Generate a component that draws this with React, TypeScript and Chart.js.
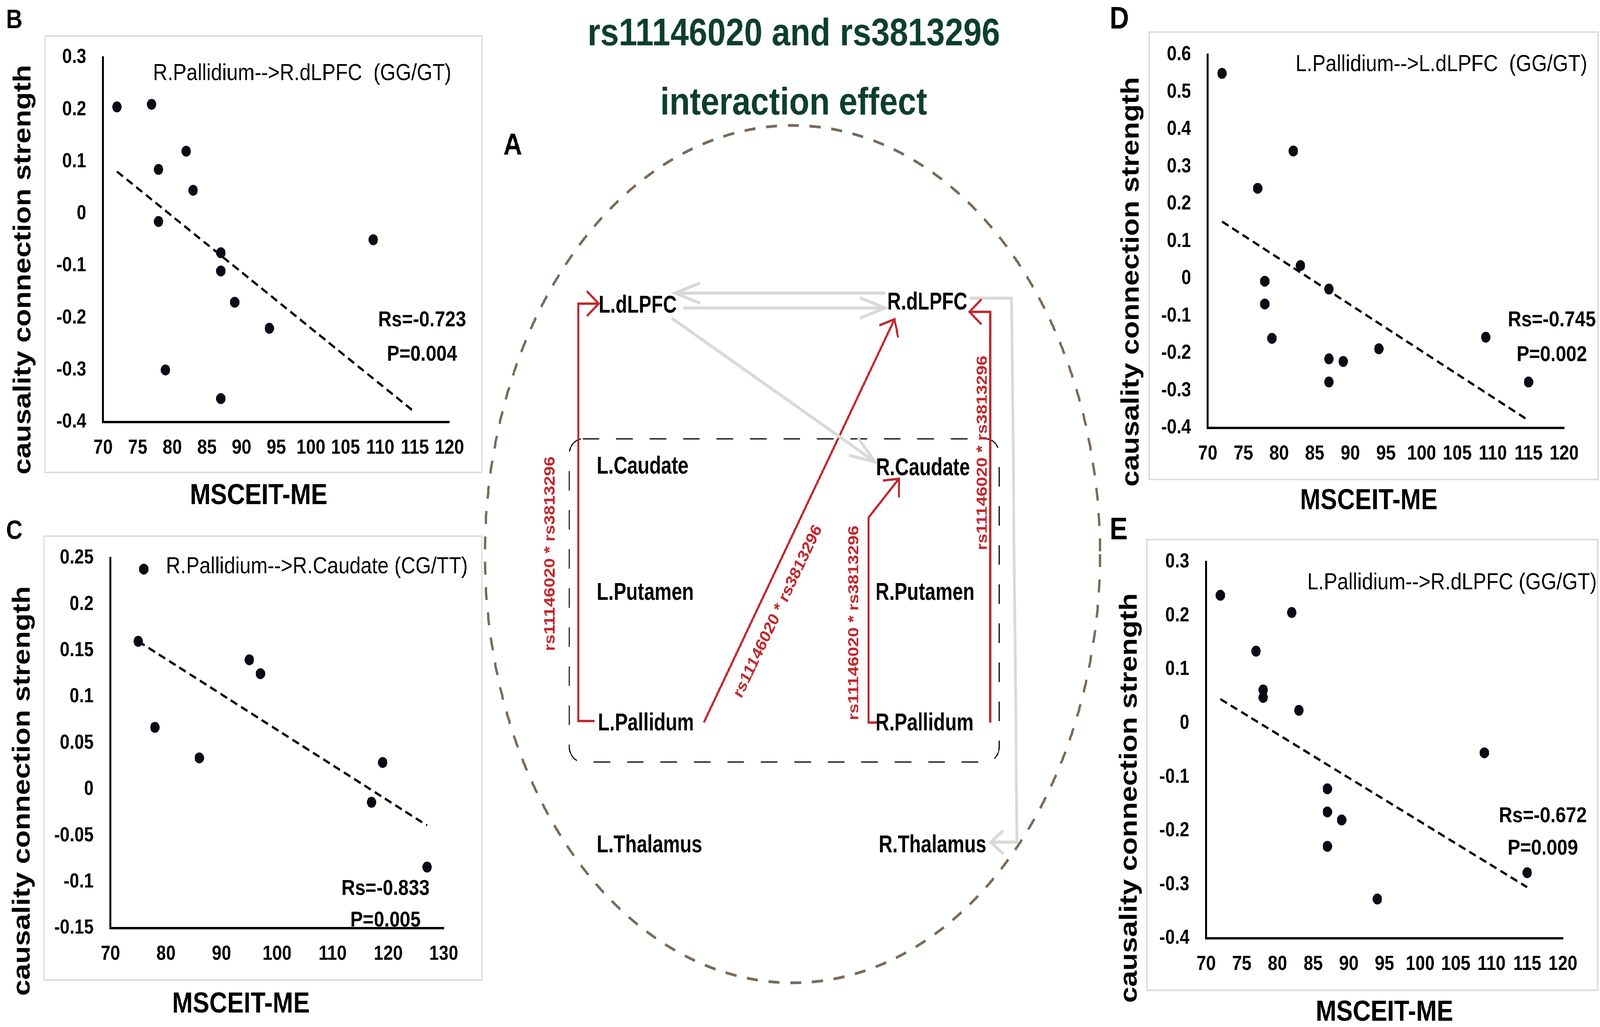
import React, { useEffect, useRef } from 'react';
import { Chart, registerables } from 'chart.js';

Chart.register(...registerables);

const FONT = '"Liberation Sans", Arial, Helvetica, sans-serif';
const DOT = '#0b0b16';
const RED = '#c1272d';
const GRAY = '#d9d9d9';
const GREEN = '#0e3f2c';
const ELLIPSE_COLOR = '#786a5c';
const PAGE_W = 4781;
const PAGE_H = 2628;

// ---------- Panel B : R.Pallidium-->R.dLPFC ----------
const xTicksB = [70, 75, 80, 85, 90, 95, 100, 105, 110, 115, 120];
const yTicksB = [-0.4, -0.3, -0.2, -0.1, 0, 0.1, 0.2, 0.3];
const msceitB = [72, 77, 78, 78, 79, 82, 83, 87, 87, 87, 89, 94, 109];
const strengthB = [0.205, 0.21, 0.085, -0.015, -0.3, 0.12, 0.045, -0.075, -0.11, -0.355, -0.17, -0.22, -0.05];
const trendXB = [72, 115];
const trendYB = [0.081, -0.381];

// ---------- Panel C : R.Pallidium-->R.Caudate ----------
const xTicksC = [70, 80, 90, 100, 110, 120, 130];
const yTicksC = [-0.15, -0.1, -0.05, 0, 0.05, 0.1, 0.15, 0.2, 0.25];
const msceitC = [75, 76, 78, 86, 95, 97, 117, 119, 127];
const strengthC = [0.16, 0.238, 0.067, 0.034, 0.14, 0.125, -0.014, 0.029, -0.084];
const trendXC = [75, 127];
const trendYC = [0.16, -0.039];

// ---------- Panel D : L.Pallidium-->L.dLPFC ----------
const xTicksD = [70, 75, 80, 85, 90, 95, 100, 105, 110, 115, 120];
const yTicksD = [-0.4, -0.3, -0.2, -0.1, 0, 0.1, 0.2, 0.3, 0.4, 0.5, 0.6];
const msceitD = [72, 77, 78, 78, 79, 82, 83, 87, 87, 87, 89, 94, 109, 115];
const strengthD = [0.55, 0.242, -0.007, -0.068, -0.16, 0.342, 0.035, -0.028, -0.215, -0.277, -0.222, -0.188, -0.157, -0.277];
const trendXD = [72, 115];
const trendYD = [0.153, -0.38];

// ---------- Panel E : L.Pallidium-->R.dLPFC ----------
const xTicksE = [70, 75, 80, 85, 90, 95, 100, 105, 110, 115, 120];
const yTicksE = [-0.4, -0.3, -0.2, -0.1, 0, 0.1, 0.2, 0.3];
const msceitE = [72, 77, 78, 78, 82, 83, 87, 87, 87, 89, 94, 109, 115];
const strengthE = [0.238, 0.134, 0.062, 0.048, 0.206, 0.024, -0.122, -0.165, -0.229, -0.18, -0.327, -0.055, -0.278];
const trendXE = [72, 115];
const trendYE = [0.045, -0.305];

// ---------- Panel A : diagram ----------
const titleLines = ['rs11146020 and rs3813296', 'interaction effect'];
const nodeNames = ['L.dLPFC', 'R.dLPFC', 'L.Caudate', 'R.Caudate', 'L.Putamen', 'R.Putamen', 'L.Pallidum', 'R.Pallidum', 'L.Thalamus', 'R.Thalamus'];
const nodeX = [1789, 2651, 1783, 2618, 1783, 2616, 1787, 2616, 1783, 2626];
const nodeY = [800, 792, 1212, 1216, 1535, 1535, 1869, 1869, 2181, 2181];
const grayPaths = [
  [[2645, 750], [2017, 750]],
  [[2042, 788], [2645, 788]],
  [[2007, 814], [2615, 1182]],
  [[2897, 763], [3023, 763], [3039, 2155], [2961, 2155]],
];
const redPaths = [
  [[1777, 1845], [1728, 1845], [1728, 777], [1789, 777]],
  [[2103, 1849], [2673, 817]],
  [[2632, 1849], [2595, 1849], [2595, 1325], [2686, 1225]],
  [[2959, 1849], [2959, 798], [2897, 798]],
];
const redLabel = 'rs11146020 * rs3813296';
const redLabelX = [1645, 2325, 2553, 2937];
const redLabelY = [1417, 1565, 1594, 1159];
const redLabelAngle = [-90, -61, -90, -90];

function fmtTick(v: number) {
  const r = Math.round(v * 100) / 100;
  return String(r === 0 ? 0 : r);
}

type Panel = {
  key: string;
  left: number; top: number; width: number; height: number;
  area: { l: number; t: number; r: number; b: number };
  frame: number[];
  letter: string; letterSize: number; letterPos: number[];
  yTitle: number[]; xTitle: number[];
  note: string; noteLeft: number; noteBase: number;
  rs: string; p: string; statsX: number; rsBase: number; pBase: number;
  xs: number[]; ys: number[]; tx: number[]; ty: number[];
  xTicks: number[]; yTicks: number[];
};

const panels: Panel[] = [
  {
    key: 'B', left: 0, top: 0, width: 1450, height: 1310,
    area: { l: 308, t: 147, r: 1343, b: 1080 }, frame: [135, 92, 1440, 1209],
    letter: 'B', letterSize: 68, letterPos: [18, 72],
    yTitle: [72, 690], xTitle: [773, 1290],
    note: 'R.Pallidium-->R.dLPFC  (GG/GT)', noteLeft: 457, noteBase: 205,
    rs: 'Rs=-0.723', p: 'P=0.004', statsX: 1261, rsBase: 835, pBase: 923,
    xs: msceitB, ys: strengthB, tx: trendXB, ty: trendYB, xTicks: xTicksB, yTicks: yTicksB,
  },
  {
    key: 'C', left: 0, top: 1290, width: 1450, height: 1338,
    area: { l: 330, t: 138, r: 1326, b: 1085 }, frame: [131, 82, 1440, 1218],
    letter: 'C', letterSize: 68, letterPos: [18, 89],
    yTitle: [70, 734], xTitle: [720, 1301],
    note: 'R.Pallidium-->R.Caudate (CG/TT)', noteLeft: 496, noteBase: 177,
    rs: 'Rs=-0.833', p: 'P=0.005', statsX: 1152, rsBase: 1000, pBase: 1081,
    xs: msceitC, ys: strengthC, tx: trendXC, ty: trendYC, xTicks: xTicksC, yTicks: yTicksC,
  },
  {
    key: 'D', left: 3300, top: 0, width: 1481, height: 1320,
    area: { l: 309, t: 140, r: 1374, b: 1095 }, frame: [134, 82, 1475, 1227],
    letter: 'D', letterSize: 80, letterPos: [16, 73],
    yTitle: [83, 721], xTitle: [790, 1303],
    note: 'L.Pallidium-->L.dLPFC  (GG/GT)', noteLeft: 571, noteBase: 182,
    rs: 'Rs=-0.745', p: 'P=0.002', statsX: 1337, rsBase: 835, pBase: 924,
    xs: msceitD, ys: strengthD, tx: trendXD, ty: trendYD, xTicks: xTicksD, yTicks: yTicksD,
  },
  {
    key: 'E', left: 3300, top: 1300, width: 1481, height: 1328,
    area: { l: 304, t: 138, r: 1370, b: 1101 }, frame: [127, 81, 1474, 1234],
    letter: 'E', letterSize: 80, letterPos: [16, 80],
    yTitle: [78, 742], xTitle: [837, 1312],
    note: 'L.Pallidium-->R.dLPFC (GG/GT)', noteLeft: 606, noteBase: 208,
    rs: 'Rs=-0.672', p: 'P=0.009', statsX: 1310, rsBase: 804, pBase: 887,
    xs: msceitE, ys: strengthE, tx: trendXE, ty: trendYE, xTicks: xTicksE, yTicks: yTicksE,
  },
];

function ScatterPanel({ p }: { p: Panel }) {
  const ref = useRef<HTMLCanvasElement>(null);
  useEffect(() => {
    const canvas = ref.current;
    if (!canvas) return;
    const points = p.xs.map((x, i) => ({ x, y: p.ys[i] }));
    const trend = p.tx.map((x, i) => ({ x, y: p.ty[i] }));
    const decor = {
      id: 'decor' + p.key,
      beforeDraw(chart: any) {
        const ctx = chart.ctx;
        const [l, t, r, b] = p.frame;
        ctx.save();
        ctx.strokeStyle = '#dcdcdc';
        ctx.lineWidth = 4;
        ctx.strokeRect(l, t, r - l, b - t);
        ctx.restore();
      },
      afterDraw(chart: any) {
        const ctx = chart.ctx;
        ctx.save();
        ctx.fillStyle = '#000';
        ctx.font = `bold ${p.letterSize}px ${FONT}`;
        ctx.textAlign = 'left';
        ctx.textBaseline = 'alphabetic';
        ctx.fillText(p.letter, p.letterPos[0], p.letterPos[1]);
        ctx.font = `bold 74px ${FONT}`;
        ctx.textAlign = 'center';
        ctx.fillText('MSCEIT-ME', p.xTitle[0], p.xTitle[1]);
        ctx.save();
        ctx.translate(p.yTitle[0], p.yTitle[1]);
        ctx.rotate(-Math.PI / 2);
        ctx.fillText('causality connection strength', 0, 19);
        ctx.restore();
        ctx.font = `60px ${FONT}`;
        ctx.textAlign = 'left';
        ctx.fillText(p.note, p.noteLeft, p.noteBase);
        ctx.font = `bold 56px ${FONT}`;
        ctx.textAlign = 'center';
        ctx.fillText(p.rs, p.statsX, p.rsBase);
        ctx.fillText(p.p, p.statsX, p.pBase);
        ctx.restore();
      },
    };
    const tickFont = { family: FONT, size: 52, weight: 'bold' as const };
    const chart = new Chart(canvas, {
      type: 'scatter',
      data: {
        datasets: [
          {
            data: points,
            backgroundColor: DOT,
            borderColor: DOT,
            borderWidth: 0,
            pointRadius: 14,
          },
          {
            data: trend,
            showLine: true,
            borderColor: '#000',
            borderWidth: 6,
            borderDash: [22, 13],
            pointRadius: 0,
            fill: false,
          } as any,
        ],
      },
      options: {
        animation: false,
        responsive: false,
        devicePixelRatio: 1,
        events: [],
        layout: { padding: { left: 0, top: p.area.t, right: p.width - p.area.r, bottom: 0 } },
        plugins: { legend: { display: false }, tooltip: { enabled: false }, title: { display: false } },
        scales: {
          x: {
            type: 'linear',
            min: p.xTicks[0],
            max: p.xTicks[p.xTicks.length - 1],
            grid: { display: false, drawTicks: false },
            border: { display: true, color: '#000', width: 6 },
            ticks: {
              padding: 35, color: '#000', font: tickFont, autoSkip: false,
              maxRotation: 0, minRotation: 0,
              callback: (v: any) => fmtTick(Number(v)),
            },
            afterBuildTicks: (s: any) => { s.ticks = p.xTicks.map((v) => ({ value: v })); },
            afterFit: (s: any) => { s.height = p.height - p.area.b; },
          },
          y: {
            type: 'linear',
            min: p.yTicks[0],
            max: p.yTicks[p.yTicks.length - 1],
            grid: { display: false, drawTicks: false },
            border: { display: true, color: '#000', width: 6 },
            ticks: {
              padding: 50, color: '#000', font: tickFont, autoSkip: false,
              callback: (v: any) => fmtTick(Number(v)),
            },
            afterBuildTicks: (s: any) => { s.ticks = p.yTicks.map((v) => ({ value: v })); },
            afterFit: (s: any) => { s.width = p.area.l; },
          },
        },
      },
      plugins: [decor],
    });
    return () => chart.destroy();
  }, [p]);
  return (
    <canvas
      ref={ref}
      width={p.width}
      height={p.height}
      style={{ position: 'absolute', left: p.left, top: p.top, width: p.width, height: p.height }}
    />
  );
}

const DIA = { left: 1440, top: 0, width: 1860, height: 2628 };
const ellipse = { cx: 2368, cy: 1418, rx: 919, ry: 1097 };
const basalBox = { l: 1701, t: 1123, r: 2986, b: 1950, radius: 40 };

function Diagram() {
  const ref = useRef<HTMLCanvasElement>(null);
  useEffect(() => {
    const canvas = ref.current;
    if (!canvas) return;
    const edgeSets = [
      ...grayPaths.map((path, i) => ({
        path, color: GRAY, width: 8,
        arm: i === 3 ? 48 : 80, half: i === 3 ? 39 : 19,
      })),
      ...redPaths.map((path) => ({ path, color: RED, width: 6, arm: 48, half: 42 })),
    ];
    const nodeIndex = edgeSets.length;
    const decor = {
      id: 'diagramDecor',
      beforeDatasetsDraw(chart: any) {
        const { ctx } = chart;
        const sx = chart.scales.x;
        const sy = chart.scales.y;
        ctx.save();
        const cx = sx.getPixelForValue(ellipse.cx);
        const cy = sy.getPixelForValue(ellipse.cy);
        const rx = sx.getPixelForValue(ellipse.cx + ellipse.rx) - cx;
        const ry = sy.getPixelForValue(ellipse.cy + ellipse.ry) - cy;
        ctx.strokeStyle = ELLIPSE_COLOR;
        ctx.lineWidth = 7;
        ctx.setLineDash([33, 32]);
        ctx.beginPath();
        ctx.ellipse(cx, cy, Math.abs(rx), Math.abs(ry), 0, 0, Math.PI * 2);
        ctx.stroke();
        const l = sx.getPixelForValue(basalBox.l);
        const r = sx.getPixelForValue(basalBox.r);
        const t = sy.getPixelForValue(basalBox.t);
        const b = sy.getPixelForValue(basalBox.b);
        const rad = basalBox.radius;
        ctx.strokeStyle = '#000';
        ctx.lineWidth = 3;
        ctx.setLineDash([50, 50]);
        ctx.beginPath();
        ctx.moveTo(l + rad, t);
        ctx.lineTo(r - rad, t);
        ctx.arcTo(r, t, r, t + rad, rad);
        ctx.lineTo(r, b - rad);
        ctx.arcTo(r, b, r - rad, b, rad);
        ctx.lineTo(l + rad, b);
        ctx.arcTo(l, b, l, b - rad, rad);
        ctx.lineTo(l, t + rad);
        ctx.arcTo(l, t, l + rad, t, rad);
        ctx.closePath();
        ctx.stroke();
        ctx.restore();
      },
      afterDatasetsDraw(chart: any) {
        const { ctx } = chart;
        const sx = chart.scales.x;
        const sy = chart.scales.y;
        ctx.save();
        edgeSets.forEach((e, i) => {
          const meta = chart.getDatasetMeta(i);
          const pts = meta.data;
          const tip = pts[pts.length - 1];
          const prev = pts[pts.length - 2];
          const th = Math.atan2(tip.y - prev.y, tip.x - prev.x);
          const h = (e.half * Math.PI) / 180;
          ctx.strokeStyle = e.color;
          ctx.lineWidth = e.width;
          ctx.lineJoin = 'miter';
          ctx.lineCap = 'butt';
          ctx.setLineDash([]);
          ctx.beginPath();
          ctx.moveTo(tip.x + e.arm * Math.cos(th + Math.PI + h), tip.y + e.arm * Math.sin(th + Math.PI + h));
          ctx.lineTo(tip.x, tip.y);
          ctx.lineTo(tip.x + e.arm * Math.cos(th + Math.PI - h), tip.y + e.arm * Math.sin(th + Math.PI - h));
          ctx.stroke();
        });
        ctx.fillStyle = RED;
        ctx.font = `bold 45px ${FONT}`;
        ctx.textAlign = 'center';
        ctx.textBaseline = 'middle';
        redLabelX.forEach((lx, i) => {
          ctx.save();
          ctx.translate(sx.getPixelForValue(lx), sy.getPixelForValue(redLabelY[i]));
          ctx.rotate((redLabelAngle[i] * Math.PI) / 180);
          ctx.fillText(redLabel, 0, 0);
          ctx.restore();
        });
        const nmeta = chart.getDatasetMeta(nodeIndex);
        ctx.fillStyle = '#000';
        ctx.font = `bold 63px ${FONT}`;
        ctx.textAlign = 'left';
        ctx.textBaseline = 'alphabetic';
        nmeta.data.forEach((el: any, i: number) => {
          ctx.save();
          ctx.translate(el.x, el.y);
          ctx.scale(0.9, 1);
          ctx.fillText(nodeNames[i], 0, 0);
          ctx.restore();
        });
        ctx.fillStyle = GREEN;
        ctx.font = `bold 99px ${FONT}`;
        ctx.textAlign = 'center';
        const tx = sx.getPixelForValue(2372);
        ctx.fillText(titleLines[0], tx, sy.getPixelForValue(116));
        ctx.fillText(titleLines[1], tx, sy.getPixelForValue(293));
        ctx.fillStyle = '#000';
        ctx.font = `bold 78px ${FONT}`;
        ctx.textAlign = 'left';
        ctx.fillText('A', sx.getPixelForValue(1504), sy.getPixelForValue(396));
        ctx.restore();
      },
    };
    const datasets: any[] = edgeSets.map((e) => ({
      data: e.path.map(([x, y]) => ({ x, y })),
      showLine: true,
      borderColor: e.color,
      borderWidth: e.width,
      pointRadius: 0,
      tension: 0,
      fill: false,
      borderCapStyle: 'butt',
      borderJoinStyle: 'miter',
    }));
    datasets.push({
      data: nodeX.map((x, i) => ({ x, y: nodeY[i] })),
      pointRadius: 0,
      showLine: false,
    });
    const chart = new Chart(canvas, {
      type: 'scatter',
      data: { datasets },
      options: {
        animation: false,
        responsive: false,
        devicePixelRatio: 1,
        events: [],
        layout: { padding: 0 },
        plugins: { legend: { display: false }, tooltip: { enabled: false } },
        scales: {
          x: { type: 'linear', min: DIA.left, max: DIA.left + DIA.width, display: false },
          y: { type: 'linear', min: DIA.top, max: DIA.top + DIA.height, reverse: true, display: false },
        },
      },
      plugins: [decor],
    });
    return () => chart.destroy();
  }, []);
  return (
    <canvas
      ref={ref}
      width={DIA.width}
      height={DIA.height}
      style={{ position: 'absolute', left: DIA.left, top: DIA.top, width: DIA.width, height: DIA.height }}
    />
  );
}

export default function App() {
  const vw = typeof window !== 'undefined' ? window.innerWidth || PAGE_W : PAGE_W;
  const vh = typeof window !== 'undefined' ? window.innerHeight || PAGE_H : PAGE_H;
  const sx = vw / PAGE_W;
  const sy = vh / PAGE_H;
  return (
    <div
      style={{
        position: 'fixed', left: 0, top: 0, width: PAGE_W, height: PAGE_H,
        background: '#fff', overflow: 'hidden',
        transform: `scale(${sx}, ${sy})`, transformOrigin: '0 0',
      }}
    >
      <Diagram />
      {panels.map((p) => (
        <ScatterPanel key={p.key} p={p} />
      ))}
    </div>
  );
}
